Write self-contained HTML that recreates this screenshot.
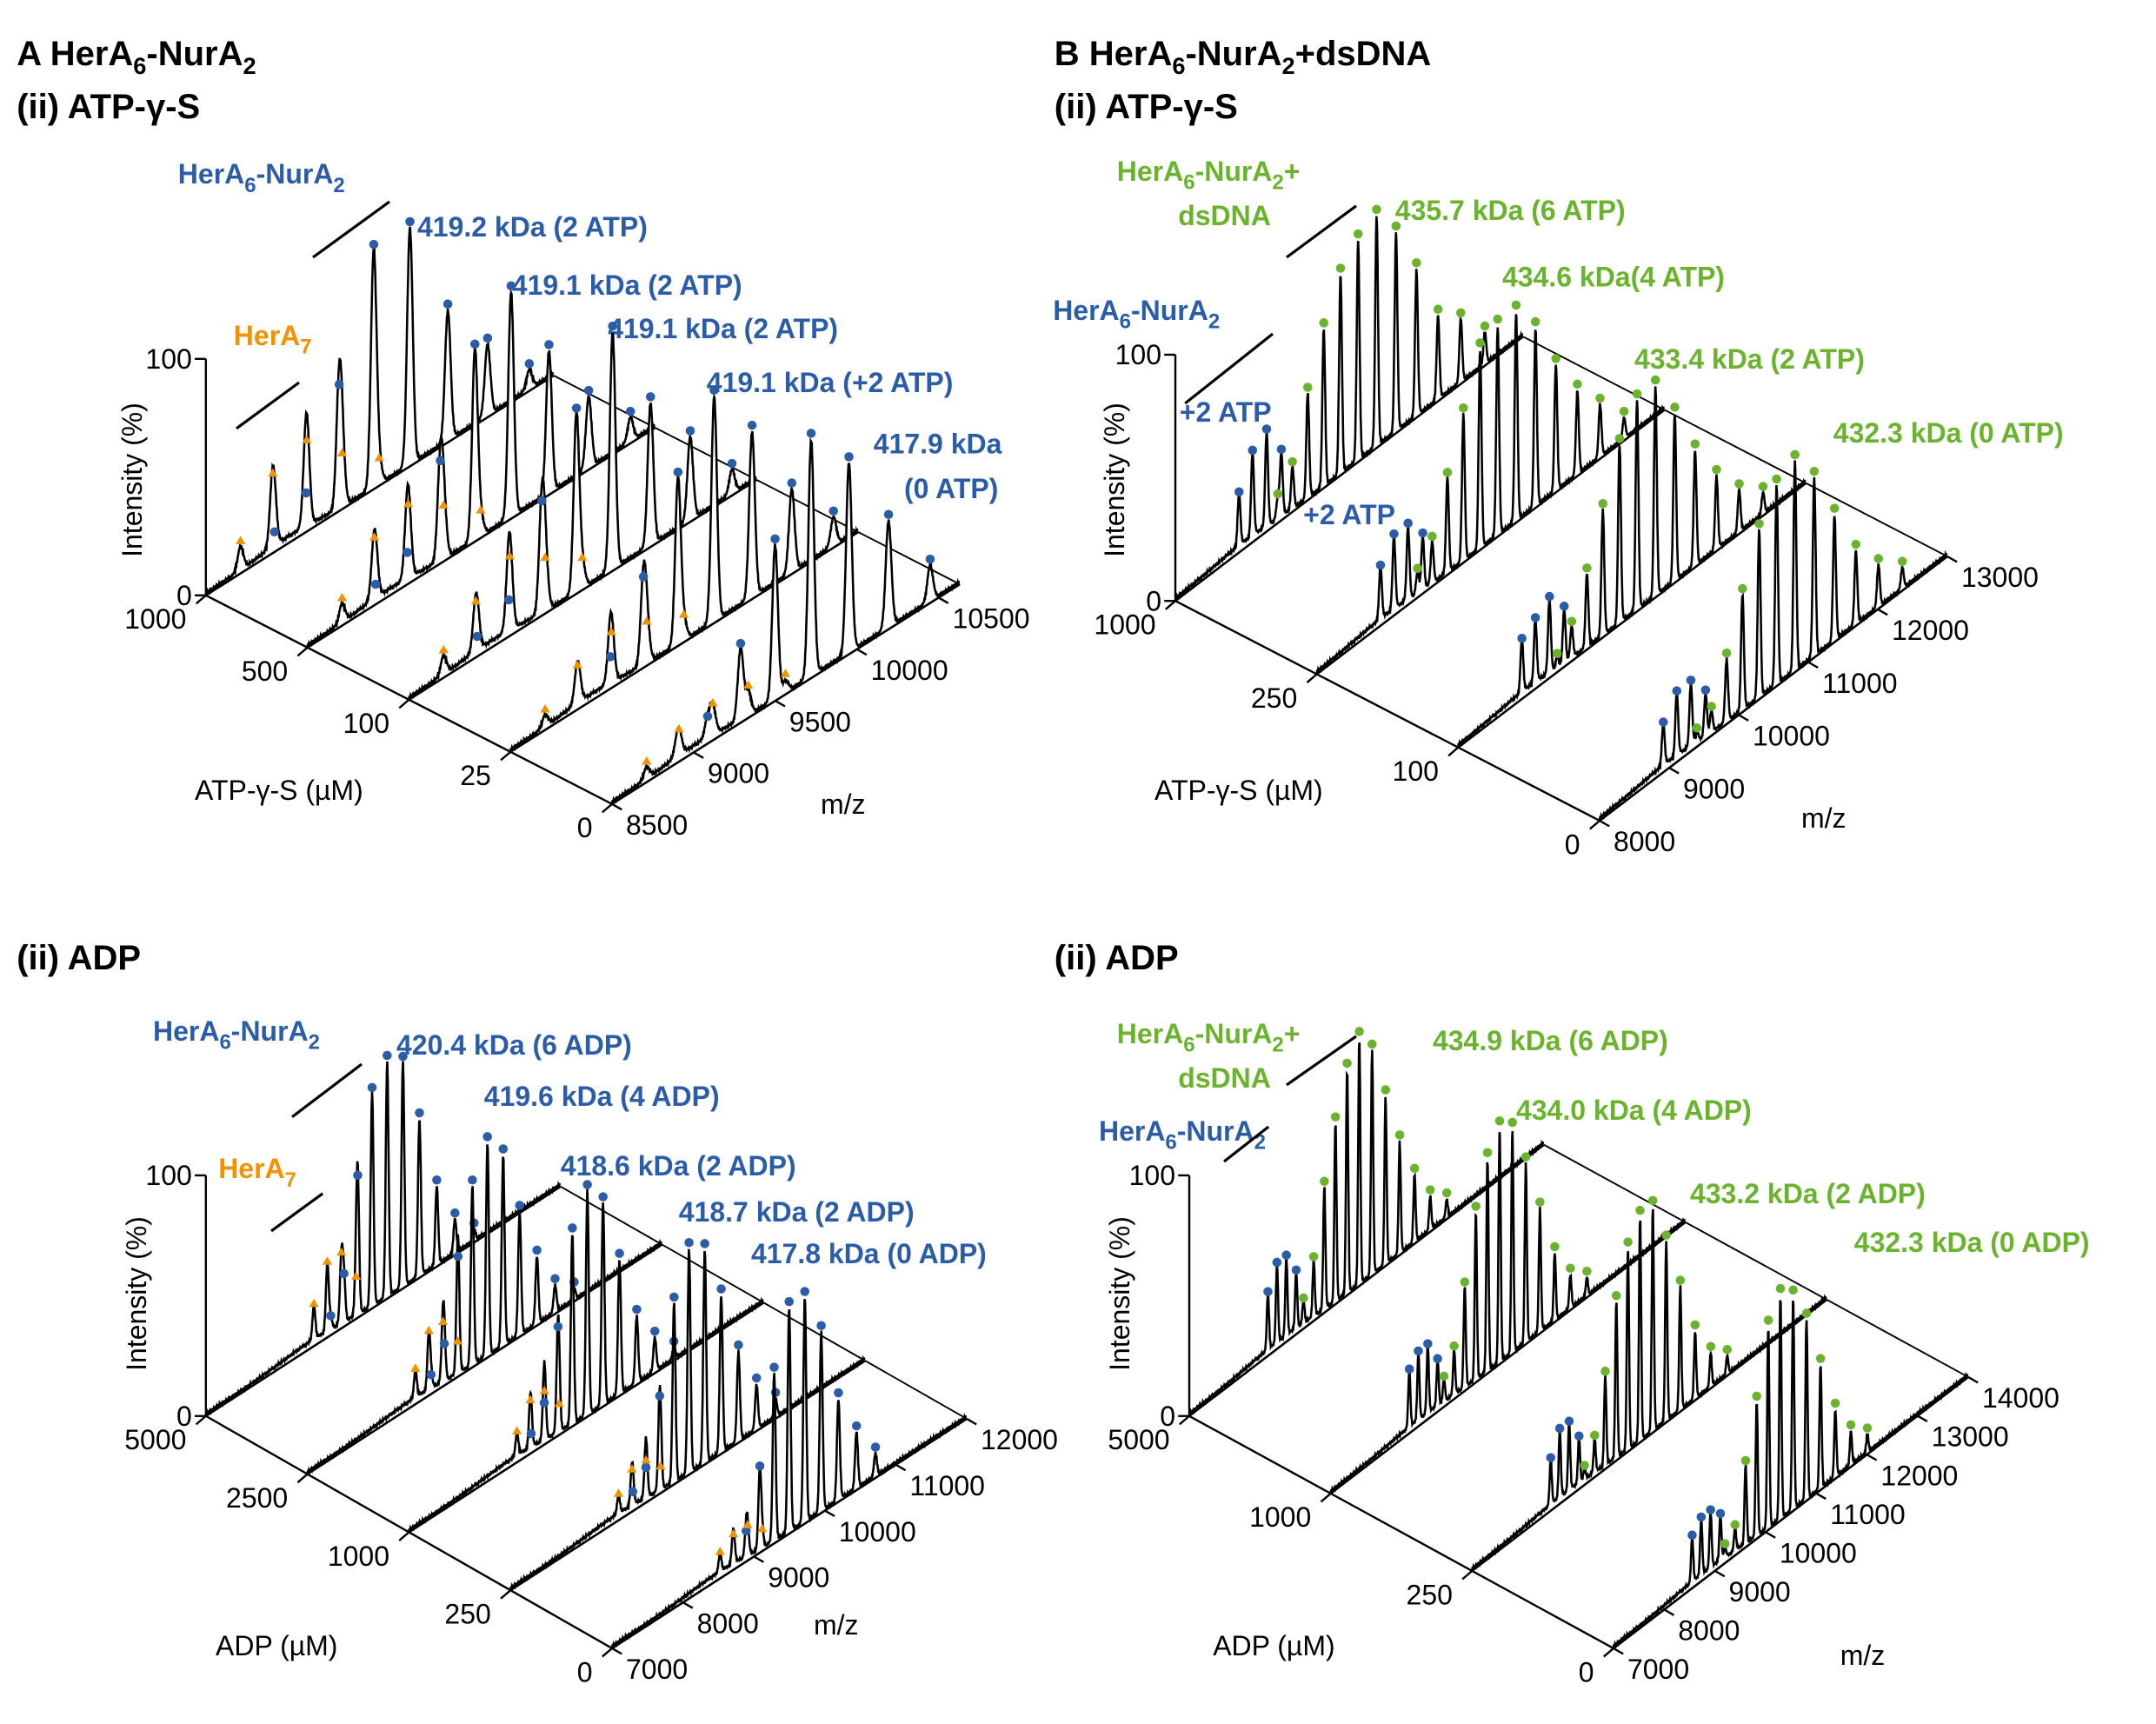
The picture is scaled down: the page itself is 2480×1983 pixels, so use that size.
<!DOCTYPE html>
<html><head><meta charset="utf-8"><style>
html,body{margin:0;padding:0;background:#fff}
svg{display:block;font-family:"Liberation Sans","DejaVu Sans",sans-serif}
.t{font-weight:bold;font-size:25px;fill:#000}
.b{font-weight:bold;font-size:20px;fill:#2a5caa}
.o{font-weight:bold;font-size:20px;fill:#f39200}
.g{font-weight:bold;font-size:20px;fill:#6ab42d}
.ax{font-size:20px;fill:#000}
</style></head><body>
<svg id="fig" width="2480" height="1983" viewBox="0 0 1550 1239.4" xmlns="http://www.w3.org/2000/svg">
<g id="labels">
<text class="t" x="12" y="47" font-size="27">A HerA<tspan font-size="17" dy="6">6</tspan><tspan dy="-6">-NurA</tspan><tspan font-size="17" dy="6">2</tspan></text>
<text class="t" x="12" y="85">(ii) ATP-γ-S</text>
<text class="b" x="128" y="132">HerA<tspan font-size="15" dy="6">6</tspan><tspan dy="-6">-NurA</tspan><tspan font-size="15" dy="6">2</tspan></text>
<text class="o" x="168" y="248">HerA<tspan font-size="15" dy="6">7</tspan></text>
<text class="b" x="300" y="170">419.2 kDa (2 ATP)</text>
<text class="b" x="368" y="212">419.1 kDa (2 ATP)</text>
<text class="b" x="437" y="243">419.1 kDa (2 ATP)</text>
<text class="b" x="508" y="282">419.1 kDa (+2 ATP)</text>
<text class="b" x="628" y="326">417.9 kDa</text>
<text class="b" x="650" y="358">(0 ATP)</text>
<text class="ax" transform="translate(102,345) rotate(-90)" text-anchor="middle">Intensity (%)</text>
<text class="ax" x="140" y="575">ATP-γ-S (µM)</text>
<text class="ax" x="590" y="585">m/z</text>

<text class="t" x="758" y="47" font-size="27">B HerA<tspan font-size="17" dy="6">6</tspan><tspan dy="-6">-NurA</tspan><tspan font-size="17" dy="6">2</tspan><tspan dy="-6">+dsDNA</tspan></text>
<text class="t" x="758" y="85">(ii) ATP-γ-S</text>
<text class="g" x="803" y="130">HerA<tspan font-size="15" dy="6">6</tspan><tspan dy="-6">-NurA</tspan><tspan font-size="15" dy="6">2</tspan><tspan dy="-6">+</tspan></text>
<text class="g" x="847" y="162">dsDNA</text>
<text class="g" x="1003" y="158">435.7 kDa (6 ATP)</text>
<text class="g" x="1080" y="206">434.6 kDa(4 ATP)</text>
<text class="g" x="1175" y="265">433.4 kDa (2 ATP)</text>
<text class="g" x="1318" y="318">432.3 kDa (0 ATP)</text>
<text class="b" x="757" y="230">HerA<tspan font-size="15" dy="6">6</tspan><tspan dy="-6">-NurA</tspan><tspan font-size="15" dy="6">2</tspan></text>
<text class="b" x="848" y="303" font-size="16">+2 ATP</text>
<text class="b" x="937" y="377" font-size="16">+2 ATP</text>
<text class="ax" transform="translate(808,345) rotate(-90)" text-anchor="middle" font-size="16">Intensity (%)</text>
<text class="ax" x="830" y="575">ATP-γ-S (µM)</text>
<text class="ax" x="1295" y="595">m/z</text>

<text class="t" x="12" y="697">(ii) ADP</text>
<text class="b" x="110" y="748">HerA<tspan font-size="15" dy="6">6</tspan><tspan dy="-6">-NurA</tspan><tspan font-size="15" dy="6">2</tspan></text>
<text class="o" x="157" y="847">HerA<tspan font-size="15" dy="6">7</tspan></text>
<text class="b" x="285" y="758">420.4 kDa (6 ADP)</text>
<text class="b" x="348" y="795">419.6 kDa (4 ADP)</text>
<text class="b" x="403" y="845">418.6 kDa (2 ADP)</text>
<text class="b" x="488" y="878">418.7 kDa (2 ADP)</text>
<text class="b" x="540" y="908">417.8 kDa (0 ADP)</text>
<text class="ax" transform="translate(105,930) rotate(-90)" text-anchor="middle">Intensity (%)</text>
<text class="ax" x="155" y="1190">ADP (µM)</text>
<text class="ax" x="585" y="1175">m/z</text>

<text class="t" x="758" y="697">(ii) ADP</text>
<text class="g" x="803" y="750">HerA<tspan font-size="15" dy="6">6</tspan><tspan dy="-6">-NurA</tspan><tspan font-size="15" dy="6">2</tspan><tspan dy="-6">+</tspan></text>
<text class="g" x="847" y="782">dsDNA</text>
<text class="b" x="790" y="820">HerA<tspan font-size="15" dy="6">6</tspan><tspan dy="-6">-NurA</tspan><tspan font-size="15" dy="6">2</tspan></text>
<text class="g" x="1030" y="755">434.9 kDa (6 ADP)</text>
<text class="g" x="1090" y="805">434.0 kDa (4 ADP)</text>
<text class="g" x="1215" y="865">433.2 kDa (2 ADP)</text>
<text class="g" x="1333" y="900">432.3 kDa (0 ADP)</text>
<text class="ax" transform="translate(812,930) rotate(-90)" text-anchor="middle">Intensity (%)</text>
<text class="ax" x="872" y="1190">ADP (µM)</text>
<text class="ax" x="1323" y="1197">m/z</text>

<g stroke="#000" stroke-width="2">
<line x1="225" y1="185" x2="280" y2="145"/><line x1="170" y1="308" x2="215" y2="275"/>
<line x1="925" y1="185" x2="975" y2="148"/><line x1="852" y1="290" x2="915" y2="240"/>
<line x1="210" y1="803" x2="260" y2="765"/><line x1="195" y1="885" x2="232" y2="858"/>
<line x1="925" y1="780" x2="975" y2="745"/><line x1="880" y1="835" x2="912" y2="810"/>
</g>
</g>
<g id="plots"></g>
</svg>
<script>
// ---- Panel A top (ATP-γ-S) ----
const aTopConc = ["1000","500","100","25","0"];
const aTopMz = [8500,9000,9500,10000,10500];
const aTopMass = [419200,419100,419100,419100,417900];
const aTopZ = [47,46,45,44,43,42,41,40];
const aTopH = [[0.05,0.13,0.5,1.0,1.0,0.55,0.3,0.08],[0.05,0.1,0.4,0.8,0.95,0.6,0.3,0.1],[0.05,0.12,0.45,0.75,1.0,0.6,0.35,0.1],[0.03,0.1,0.35,0.7,0.95,0.7,0.35,0.12],[0.03,0.08,0.3,0.65,1.0,0.8,0.45,0.15]];
const aTopMinorZ = [45,44,43,42,41];
const aTopMinorH = [[0.1,0.3,0.35,0.2,0.08],[0.08,0.25,0.3,0.2,0.08],[0.08,0.2,0.3,0.2,0.1],[0.05,0.15,0.2,0.15,0.08],[0.05,0.1,0.12,0.1,0.05]];
// ---- Panel A bottom (ADP) ----
const aBotConc = ["5000","2500","1000","250","0"];
const aBotMz = [7000,8000,9000,10000,11000,12000];
const aBotMass = [420400,419600,418600,418700,417800];
const aBotZ = [48,47,46,45,44,43,42,41,40,39];
const aBotH = [[0.05,0.2,0.6,0.95,1.05,1.0,0.7,0.35,0.15,0.05],[0.05,0.15,0.5,0.8,0.95,0.85,0.55,0.3,0.12,0.05],[0.05,0.15,0.45,0.85,1.0,0.9,0.6,0.3,0.15,0.05],[0.05,0.12,0.4,0.8,1.0,0.95,0.7,0.4,0.2,0.08],[0.04,0.1,0.35,0.75,1.0,1.0,0.8,0.45,0.25,0.1]];
const aBotMinorZ = [46,45,44,43];
const aBotMinorH = [[0.15,0.3,0.3,0.15],[0.12,0.25,0.25,0.12],[0.1,0.2,0.2,0.1],[0.08,0.15,0.15,0.08],[0.08,0.12,0.12,0.06]];
// ---- Panel B top (ATP-γ-S + dsDNA) ----
const bTopConc = ["1000","250","100","0"];
const bTopMz = [8000,9000,10000,11000,12000,13000];
const bTopMass = [435700,434600,433400,432300];
const bTopZ = [46,45,44,43,42,41,40,39,38,37,36,35];
const bTopH = [[0.1,0.2,0.5,0.75,0.95,1.05,1.1,0.95,0.7,0.4,0.3,0.15],[0.1,0.2,0.45,0.7,0.95,1.0,1.0,0.85,0.6,0.4,0.25,0.1],[0.05,0.15,0.35,0.6,0.85,1.0,1.0,0.8,0.55,0.35,0.2,0.1],[0.05,0.1,0.3,0.55,0.8,0.95,1.0,0.85,0.6,0.35,0.2,0.1]];
const bTopMinorZ = [47,46,45,44];
const bTopMinorH = [[0.25,0.4,0.45,0.3],[0.25,0.35,0.35,0.25],[0.25,0.3,0.35,0.25],[0.2,0.3,0.3,0.2]];
// ---- Panel B bottom (ADP + dsDNA) ----
const bBotConc = ["5000","1000","250","0"];
const bBotMz = [7000,8000,9000,10000,11000,12000,13000,14000];
const bBotMass = [434900,434000,433200,432300];
const bBotZ = [47,46,45,44,43,42,41,40,39,38,37,36];
const bBotH = [[0.1,0.25,0.55,0.8,1.0,1.1,1.0,0.75,0.5,0.3,0.15,0.08],[0.1,0.2,0.45,0.75,0.95,1.05,1.0,0.8,0.55,0.3,0.15,0.08],[0.05,0.15,0.4,0.7,0.9,1.0,1.0,0.8,0.55,0.3,0.15,0.08],[0.05,0.1,0.35,0.6,0.9,1.0,0.95,0.8,0.55,0.3,0.15,0.08]];
const bBotMinorZ = [49,48,47,46];
const bBotMinorH = [[0.25,0.35,0.35,0.25],[0.25,0.3,0.3,0.2],[0.2,0.3,0.3,0.2],[0.2,0.25,0.25,0.2]];

const NS="http://www.w3.org/2000/svg";
const plots=document.getElementById('plots');
function mk(tag,attrs,parent){const e=document.createElementNS(NS,tag);for(const k in attrs)e.setAttribute(k,attrs[k]);(parent||plots).appendChild(e);return e;}

function panel(cfg){
  const g=mk('g',{});
  
  
  const n=cfg.conc.length;
  const [O,C,M,H]=[cfg.O,cfg.C,cfg.M,cfg.H];
  const d0=cfg.dom[0],d1=cfg.dom[1];
  const fx=m=>(m-d0)/(d1-d0);
  const pt=(i,f,h)=>[O[0]+C[0]*i/(n-1)+M[0]*f+H[0]*h, O[1]+C[1]*i/(n-1)+M[1]*f+H[1]*h];
  const s='#000';
  const ca=mk('line',{x1:O[0],y1:O[1],x2:O[0]+C[0],y2:O[1]+C[1],stroke:s,'stroke-width':1.5},g);
  
  
  const ma=mk('line',{x1:O[0]+C[0],y1:O[1]+C[1],x2:O[0]+C[0]+M[0],y2:O[1]+C[1]+M[1],stroke:s,'stroke-width':1.5},g);
  
  
  mk('line',{x1:O[0]+M[0],y1:O[1]+M[1],x2:O[0]+C[0]+M[0],y2:O[1]+C[1]+M[1],stroke:s,'stroke-width':1.2},g);
  const ya=mk('line',{x1:O[0],y1:O[1],x2:O[0]+H[0],y2:O[1]+H[1],stroke:s,'stroke-width':1.5},g);
  
  
  [[0,'0'],[1,'100']].forEach(([h,l])=>{
    mk('line',{x1:O[0],y1:O[1]+H[1]*h,x2:O[0]-8,y2:O[1]+H[1]*h,stroke:s,'stroke-width':1.5},g);
    const t=mk('text',{x:O[0]-10,y:O[1]+H[1]*h+7,'text-anchor':'end','font-size':20},g);t.textContent=l;
    
    
  });
  cfg.conc.forEach((c,i)=>{
    const p=pt(i,0,0);
    mk('line',{x1:p[0],y1:p[1],x2:p[0]-7,y2:p[1]+6,stroke:s,'stroke-width':1.5},g);
    const t=mk('text',{x:p[0]-14,y:p[1]+24,'text-anchor':'end','font-size':20},g);t.textContent=c;
    
    
  });
  cfg.ticks.forEach(m=>{
    const f=fx(m);const x=O[0]+C[0]+M[0]*f,y=O[1]+C[1]+M[1]*f;
    mk('line',{x1:x,y1:y,x2:x+7,y2:y+4,stroke:s,'stroke-width':1.5},g);
    const t=mk('text',{x:x+10,y:y+22,'font-size':20},g);t.textContent=m;
    
    
  });
  const w=(d1-d0)*cfg.wid;
  const hs=cfg.hs;
  for(let i=0;i<n;i++){
    const peaks=[];
    cfg.Z.forEach((z,k)=>peaks.push([(cfg.mass[i]+z*1.008)/z,cfg.Hs[i][k]*hs,'m']));
    cfg.mZ.forEach((z,k)=>peaks.push([(cfg.minor+z*1.008)/z,cfg.mH[i][k]*hs,'n']));
    const N=700;const pts=[];
    for(let j=0;j<=N;j++){
      const f=j/N,m=d0+f*(d1-d0);let y=0.015*Math.abs(Math.sin(j*1.7))+0.02*Math.exp(-Math.pow((m-cfg.hump)/(d1-d0)/0.12,2));
      peaks.forEach(p=>{y+=p[1]*Math.exp(-0.5*Math.pow((m-p[0])/w,2));});
      pts.push(pt(i,f,y));
    }
    const d='M'+pts.map(p=>p[0].toFixed(1)+','+p[1].toFixed(1)).join('L');
    const b0=pt(i,0,0),b1=pt(i,1,0);
    mk('path',{d:d+`L${b1[0]},${b1[1]}L${b0[0]},${b0[1]}Z`,fill:'#fff',stroke:'none'},g);
    const tr=mk('path',{d:d,fill:'none',stroke:'#000','stroke-width':1.6},g);
    
    
    mk('line',{x1:b0[0],y1:b0[1],x2:b1[0],y2:b1[1],stroke:'#000','stroke-width':1.6},g);
    peaks.forEach(p=>{
      const f=fx(p[0]);if(f<0||f>1||p[1]<0.04)return;
      const q=pt(i,f,p[1]);
      if(p[2]==='m'){
        const c=mk('circle',{cx:q[0],cy:q[1]-6,r:3.3,fill:cfg.col},g);
        
        
      }else if(cfg.mshape==='circle'){
        const c2=mk('circle',{cx:q[0],cy:q[1]-6,r:3.3,fill:cfg.mcol},g);
        
        
      }else{
        const tri=mk('path',{d:`M${q[0]},${q[1]-10}l-3.5,6h7z`,fill:cfg.mcol},g);
        
        
      }
    });
  }
}
panel({name:'panel-a-atp',conc:aTopConc,ticks:aTopMz,dom:[8500,10630],O:[148,428],C:[292,150],M:[250,-158],H:[0,-170],mass:aTopMass,Z:aTopZ,Hs:aTopH,minor:392000,mZ:aTopMinorZ,mH:aTopMinorH,wid:0.008,hump:9000,col:'#2a5caa',mcol:'#f39200',mshape:'tri',hs:1.0});
panel({name:'panel-a-adp',conc:aBotConc,ticks:aBotMz,dom:[7000,12000],O:[148,1018],C:[292,167],M:[255,-165],H:[0,-173],mass:aBotMass,Z:aBotZ,Hs:aBotH,minor:392000,mZ:aBotMinorZ,mH:aBotMinorH,wid:0.004,hump:8500,col:'#2a5caa',mcol:'#f39200',mshape:'tri',hs:0.93});
panel({name:'panel-b-atp',conc:bTopConc,ticks:bTopMz,dom:[8000,13000],O:[845,432],C:[305,158],M:[250,-190],H:[0,-177],mass:bTopMass,Z:bTopZ,Hs:bTopH,minor:419000,mZ:bTopMinorZ,mH:bTopMinorH,wid:0.004,hump:9000,col:'#6ab42d',mcol:'#2a5caa',mshape:'circle',hs:0.85});
panel({name:'panel-b-adp',conc:bBotConc,ticks:bBotMz,dom:[7000,14000],O:[855,1018],C:[305,167],M:[255,-195],H:[0,-173],mass:bBotMass,Z:bBotZ,Hs:bBotH,minor:419000,mZ:bBotMinorZ,mH:bBotMinorH,wid:0.003,hump:8800,col:'#6ab42d',mcol:'#2a5caa',mshape:'circle',hs:0.93});
</script>
</body></html>
